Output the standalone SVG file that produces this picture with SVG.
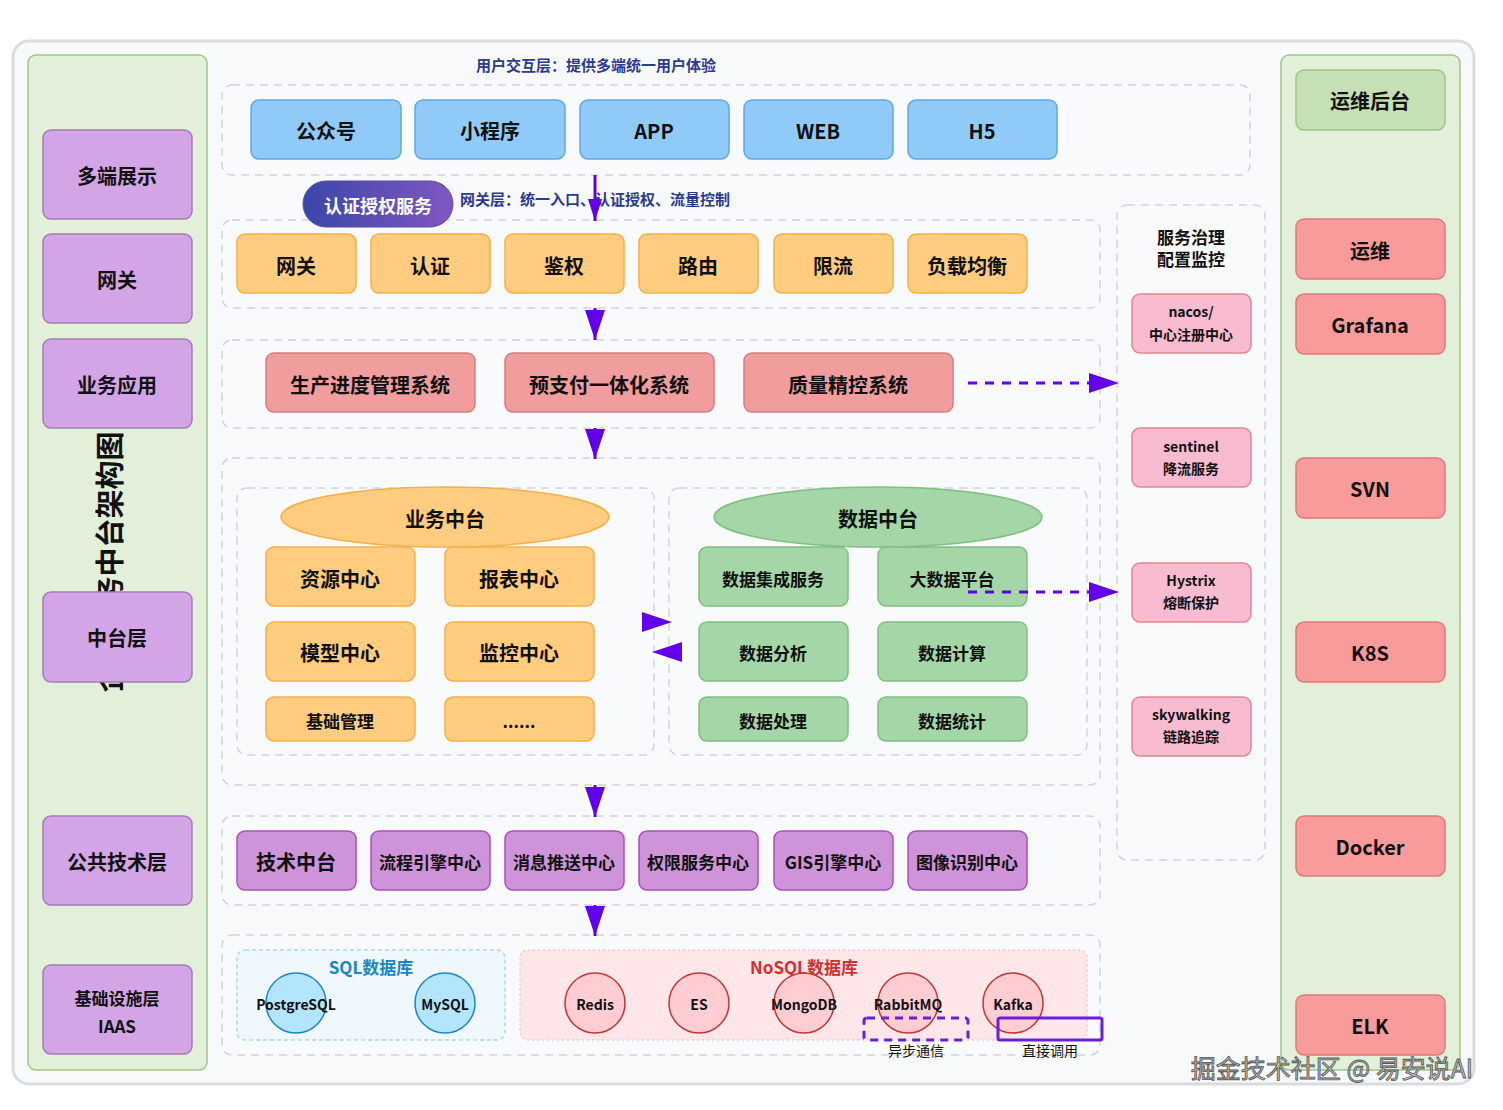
<svg xmlns="http://www.w3.org/2000/svg" width="1503" height="1110" viewBox="0 0 1503 1110">
<defs>
<style>
text{font-family:"Noto Sans CJK SC","Liberation Sans",sans-serif;text-anchor:middle;dominant-baseline:central;fill:#111;font-weight:700}
.cont{fill:#f9fafb;stroke:#d0d4da;stroke-width:1.5;stroke-dasharray:8 6}
.side{fill:#e2efd9;stroke:#9fc58b;stroke-width:1.5}
.lp{fill:#d4a5e6;stroke:#a27cb6;stroke-width:1.5}
.bl{fill:#90caf9;stroke:#5ea9e8;stroke-width:1.5}
.or{fill:#ffcc80;stroke:#f4b048;stroke-width:1.5}
.rd{fill:#f19d9d;stroke:#d97c7c;stroke-width:1.5}
.gr{fill:#a5d6a7;stroke:#7fbf81;stroke-width:1.5}
.pu{fill:#ce93d8;stroke:#ab4fc0;stroke-width:1.5}
.pk{fill:#f8bbd0;stroke:#e2868f;stroke-width:1.5}
.rr{fill:#fa9b9b;stroke:#e27a7a;stroke-width:1.5}
.gg{fill:#c5e0b4;stroke:#9cc58a;stroke-width:1.5}
.sqlc{fill:#b3e5fc;stroke:#1f86c6;stroke-width:1.5}
.noc{fill:#ffcdd2;stroke:#c43434;stroke-width:1.5}
.t20{font-size:20px}
.t17{font-size:17px}
.t14{font-size:14px}
.lbl{font-size:15px;fill:#2c3a92;font-weight:600;text-anchor:start}
.arr{stroke:#6200ea;stroke-width:3;fill:none}
.dash{stroke:#6200ea;stroke-width:3;fill:none;stroke-dasharray:9 8}
</style>
<marker id="ah" markerUnits="userSpaceOnUse" viewBox="0 0 30 20" refX="30" refY="10" markerWidth="30" markerHeight="20" orient="auto">
<path d="M0,0 L30,10 L0,20 Z" fill="#6200ea"/>
</marker>
<marker id="ahs" markerUnits="userSpaceOnUse" viewBox="0 0 22 14" refX="22" refY="7" markerWidth="22" markerHeight="14" orient="auto">
<path d="M0,0 L22,7 L0,14 Z" fill="#6200ea"/>
</marker>
<linearGradient id="gpill" x1="0" y1="0" x2="1" y2="0">
<stop offset="0" stop-color="#3a47a8"/>
<stop offset="1" stop-color="#8157c2"/>
</linearGradient>
</defs>
<rect x="0" y="0" width="1503" height="1110" fill="#ffffff"/>
<rect x="13" y="41" width="1461" height="1043" rx="16" fill="#f8f9fb" stroke="#d9dbde" stroke-width="3"/>

<!-- side columns -->
<rect class="side" x="28" y="55" width="179" height="1015" rx="8"/>
<rect class="side" x="1281" y="55" width="179" height="1015" rx="8"/>
<text x="108" y="562" style="font-size:29px" transform="rotate(-90 108 562)">企业业务中台架构图</text>

<!-- containers -->
<rect class="cont" x="222" y="85" width="1028" height="90" rx="10"/>
<rect class="cont" x="222" y="220" width="878" height="88" rx="10"/>
<rect class="cont" x="222" y="340" width="878" height="88" rx="10"/>
<rect class="cont" x="222" y="458" width="878" height="327" rx="10"/>
<rect class="cont" x="237" y="488" width="417" height="267" rx="10"/>
<rect class="cont" x="669" y="488" width="418" height="267" rx="10"/>
<rect class="cont" x="222" y="816" width="878" height="89" rx="10"/>
<rect class="cont" x="222" y="935" width="878" height="120" rx="10"/>
<rect class="cont" x="1117" y="205" width="148" height="655" rx="10"/>
<rect x="237" y="950" width="268" height="90" rx="8" fill="#eef8fe" stroke="#a9d9f0" stroke-width="1.5" stroke-dasharray="4 3"/>
<rect x="520" y="950" width="567" height="90" rx="8" fill="#ffe6e8" stroke="#f6c5ca" stroke-width="1.5" stroke-dasharray="2 3"/>

<text class="lbl" x="476" y="64">用户交互层：提供多端统一用户体验</text>
<text class="lbl" x="460" y="198">网关层：统一入口、认证授权、流量控制</text>
<text x="371" y="966" style="font-size:17px;fill:#1a86c4">SQL数据库</text>
<text x="804" y="966" style="font-size:17px;fill:#d32f2f">NoSQL数据库</text>
<text x="1191" y="236" class="t17">服务治理</text>
<text x="1191" y="258" class="t17">配置监控</text>

<!-- left layer labels -->
<g id="l-duoduan"><rect class="lp" x="43" y="130" width="149" height="89" rx="8"/><text class="t20" x="117" y="175">多端展示</text></g>
<g id="l-wangguan"><rect class="lp" x="43" y="234" width="149" height="89" rx="8"/><text class="t20" x="117" y="279">网关</text></g>
<g id="l-yewu"><rect class="lp" x="43" y="339" width="149" height="89" rx="8"/><text class="t20" x="117" y="384">业务应用</text></g>
<g id="l-zhongtai"><rect class="lp" x="43" y="592" width="149" height="90" rx="8"/><text class="t20" x="117" y="637">中台层</text></g>
<g id="l-gonggong"><rect class="lp" x="43" y="816" width="149" height="89" rx="8"/><text class="t20" x="117" y="861">公共技术层</text></g>
<g id="l-jichu"><rect class="lp" x="43" y="965" width="149" height="89" rx="8"/><text class="t17" x="117" y="997">基础设施层</text><text class="t17" x="117" y="1025">IAAS</text></g>

<!-- front ends -->
<g id="n-gzh"><rect class="bl" x="251" y="100" width="150" height="59" rx="8"/><text class="t20" x="326" y="130">公众号</text></g>
<g id="n-xcx"><rect class="bl" x="415" y="100" width="150" height="59" rx="8"/><text class="t20" x="490" y="130">小程序</text></g>
<g id="n-app"><rect class="bl" x="580" y="100" width="149" height="59" rx="8"/><text class="t20" x="654" y="130">APP</text></g>
<g id="n-web"><rect class="bl" x="744" y="100" width="149" height="59" rx="8"/><text class="t20" x="818" y="130">WEB</text></g>
<g id="n-h5"><rect class="bl" x="908" y="100" width="149" height="59" rx="8"/><text class="t20" x="982" y="130">H5</text></g>

<g id="n-auth"><rect x="303" y="181" width="150" height="46" rx="23" fill="url(#gpill)" stroke="#5a4aa8" stroke-width="1"/><text x="378" y="205" style="font-size:18px;fill:#ffffff">认证授权服务</text></g>

<!-- gateway -->
<g id="n-gw"><rect class="or" x="237" y="234" width="119" height="59" rx="8"/><text class="t20" x="296" y="265">网关</text></g>
<g id="n-rz"><rect class="or" x="371" y="234" width="119" height="59" rx="8"/><text class="t20" x="430" y="265">认证</text></g>
<g id="n-jq"><rect class="or" x="505" y="234" width="119" height="59" rx="8"/><text class="t20" x="564" y="265">鉴权</text></g>
<g id="n-ly"><rect class="or" x="639" y="234" width="119" height="59" rx="8"/><text class="t20" x="698" y="265">路由</text></g>
<g id="n-xl"><rect class="or" x="774" y="234" width="119" height="59" rx="8"/><text class="t20" x="833" y="265">限流</text></g>
<g id="n-fz"><rect class="or" x="908" y="234" width="119" height="59" rx="8"/><text class="t20" x="967" y="265">负载均衡</text></g>

<!-- business apps -->
<g id="n-sc"><rect class="rd" x="266" y="353" width="209" height="59" rx="8"/><text class="t20" x="370" y="384">生产进度管理系统</text></g>
<g id="n-yzf"><rect class="rd" x="505" y="353" width="209" height="59" rx="8"/><text class="t20" x="609" y="384">预支付一体化系统</text></g>
<g id="n-zl"><rect class="rd" x="744" y="353" width="209" height="59" rx="8"/><text class="t20" x="848" y="384">质量精控系统</text></g>

<!-- business middle platform -->
<g id="n-ywzt"><ellipse class="or" cx="445" cy="517" rx="164" ry="30"/><text class="t20" x="445" y="518">业务中台</text></g>
<g id="n-zy"><rect class="or" x="266" y="547" width="149" height="59" rx="8"/><text class="t20" x="340" y="578">资源中心</text></g>
<g id="n-bb"><rect class="or" x="445" y="547" width="149" height="59" rx="8"/><text class="t20" x="519" y="578">报表中心</text></g>
<g id="n-mx"><rect class="or" x="266" y="622" width="149" height="59" rx="8"/><text class="t20" x="340" y="652">模型中心</text></g>
<g id="n-jk"><rect class="or" x="445" y="622" width="149" height="59" rx="8"/><text class="t20" x="519" y="652">监控中心</text></g>
<g id="n-jcgl"><rect class="or" x="266" y="697" width="149" height="44" rx="8"/><text class="t17" x="340" y="720">基础管理</text></g>
<g id="n-more"><rect class="or" x="445" y="697" width="149" height="44" rx="8"/><text class="t17" x="519" y="720">......</text></g>

<!-- data middle platform -->
<g id="n-sjzt"><ellipse class="gr" cx="878" cy="517" rx="164" ry="30"/><text class="t20" x="878" y="518">数据中台</text></g>
<g id="n-jc"><rect class="gr" x="699" y="547" width="149" height="59" rx="8"/><text class="t17" x="773" y="578">数据集成服务</text></g>
<g id="n-dsj"><rect class="gr" x="878" y="547" width="149" height="59" rx="8"/><text class="t17" x="952" y="578">大数据平台</text></g>
<g id="n-fx"><rect class="gr" x="699" y="622" width="149" height="59" rx="8"/><text class="t17" x="773" y="652">数据分析</text></g>
<g id="n-js"><rect class="gr" x="878" y="622" width="149" height="59" rx="8"/><text class="t17" x="952" y="652">数据计算</text></g>
<g id="n-cl"><rect class="gr" x="699" y="697" width="149" height="44" rx="8"/><text class="t17" x="773" y="720">数据处理</text></g>
<g id="n-tj"><rect class="gr" x="878" y="697" width="149" height="44" rx="8"/><text class="t17" x="952" y="720">数据统计</text></g>

<!-- tech platform -->
<g id="n-jszt"><rect class="pu" x="237" y="831" width="119" height="59" rx="8"/><text class="t20" x="296" y="861">技术中台</text></g>
<g id="n-lc"><rect class="pu" x="371" y="831" width="119" height="59" rx="8"/><text class="t17" x="430" y="861" font-weight="600">流程引擎中心</text></g>
<g id="n-xx"><rect class="pu" x="505" y="831" width="119" height="59" rx="8"/><text class="t17" x="564" y="861" font-weight="600">消息推送中心</text></g>
<g id="n-qx"><rect class="pu" x="639" y="831" width="119" height="59" rx="8"/><text class="t17" x="698" y="861" font-weight="600">权限服务中心</text></g>
<g id="n-gis"><rect class="pu" x="774" y="831" width="119" height="59" rx="8"/><text class="t17" x="833" y="861" font-weight="600">GIS引擎中心</text></g>
<g id="n-tx"><rect class="pu" x="908" y="831" width="119" height="59" rx="8"/><text class="t17" x="967" y="861" font-weight="600">图像识别中心</text></g>

<!-- databases -->
<g id="n-pg"><circle class="sqlc" cx="296" cy="1003" r="30"/><text class="t14" x="296" y="1004">PostgreSQL</text></g>
<g id="n-my"><circle class="sqlc" cx="445" cy="1003" r="30"/><text class="t14" x="445" y="1004">MySQL</text></g>
<g id="n-redis"><circle class="noc" cx="595" cy="1003" r="30"/><text class="t14" x="595" y="1004">Redis</text></g>
<g id="n-es"><circle class="noc" cx="699" cy="1003" r="30"/><text class="t14" x="699" y="1004">ES</text></g>
<g id="n-mongo"><circle class="noc" cx="804" cy="1003" r="30"/><text class="t14" x="804" y="1004">MongoDB</text></g>
<g id="n-rmq"><circle class="noc" cx="908" cy="1003" r="30"/><text class="t14" x="908" y="1004">RabbitMQ</text></g>
<g id="n-kafka"><circle class="noc" cx="1013" cy="1003" r="30"/><text class="t14" x="1013" y="1004">Kafka</text></g>

<!-- service governance -->
<g id="n-nacos"><rect class="pk" x="1132" y="294" width="119" height="59" rx="8"/><text class="t14" x="1191" y="311" font-weight="600">nacos/</text><text class="t14" x="1191" y="334" font-weight="600">中心注册中心</text></g>
<g id="n-sentinel"><rect class="pk" x="1132" y="428" width="119" height="59" rx="8"/><text class="t14" x="1191" y="446" font-weight="600">sentinel</text><text class="t14" x="1191" y="468" font-weight="600">降流服务</text></g>
<g id="n-hystrix"><rect class="pk" x="1132" y="563" width="119" height="59" rx="8"/><text class="t14" x="1191" y="580" font-weight="600">Hystrix</text><text class="t14" x="1191" y="602" font-weight="600">熔断保护</text></g>
<g id="n-sky"><rect class="pk" x="1132" y="697" width="119" height="59" rx="8"/><text class="t14" x="1191" y="714" font-weight="600">skywalking</text><text class="t14" x="1191" y="736" font-weight="600">链路追踪</text></g>

<!-- ops -->
<g id="n-ywht"><rect class="gg" x="1296" y="70" width="149" height="60" rx="8"/><text class="t20" x="1370" y="100">运维后台</text></g>
<g id="n-yw"><rect class="rr" x="1296" y="219" width="149" height="60" rx="8"/><text class="t20" x="1370" y="250">运维</text></g>
<g id="n-grafana"><rect class="rr" x="1296" y="294" width="149" height="60" rx="8"/><text class="t20" x="1370" y="324">Grafana</text></g>
<g id="n-svn"><rect class="rr" x="1296" y="458" width="149" height="60" rx="8"/><text class="t20" x="1370" y="488">SVN</text></g>
<g id="n-k8s"><rect class="rr" x="1296" y="622" width="149" height="60" rx="8"/><text class="t20" x="1370" y="652">K8S</text></g>
<g id="n-docker"><rect class="rr" x="1296" y="816" width="149" height="60" rx="8"/><text class="t20" x="1370" y="846">Docker</text></g>
<g id="n-elk"><rect class="rr" x="1296" y="995" width="149" height="60" rx="8"/><text class="t20" x="1370" y="1025">ELK</text></g>

<!-- connectors -->
<g id="connectors">
<path class="arr" d="M595,175 L595,221" marker-end="url(#ahs)"/>
<path class="arr" d="M595,308 L595,340" marker-end="url(#ah)"/>
<path class="arr" d="M595,428 L595,459" marker-end="url(#ah)"/>
<path class="arr" d="M595,785 L595,817" marker-end="url(#ah)"/>
<path class="arr" d="M595,905 L595,936" marker-end="url(#ah)"/>
<path class="dash" d="M968,383 L1119,383" marker-end="url(#ah)"/>
<path class="dash" d="M968,592 L1119,592" marker-end="url(#ah)"/>
<path d="M642,612 L672,622 L642,632 Z" fill="#6200ea"/>
<path d="M682,642 L652,652 L682,662 Z" fill="#6200ea"/>
</g>

<!-- legend -->
<rect x="864" y="1018" width="104" height="22" rx="3" fill="none" stroke="#6a1fd8" stroke-width="3" stroke-dasharray="8 6"/>
<rect x="998" y="1018" width="104" height="22" rx="2" fill="none" stroke="#6a1fd8" stroke-width="3"/>
<text x="916" y="1050" style="font-size:14px;font-weight:400">异步通信</text>
<text x="1050" y="1050" style="font-size:14px;font-weight:400">直接调用</text>

<text x="1332" y="1067" style="font-size:25px;font-weight:400;fill:#bbbbbb;stroke:#555;stroke-width:0.8">掘金技术社区 @ 易安说AI</text>
</svg>
